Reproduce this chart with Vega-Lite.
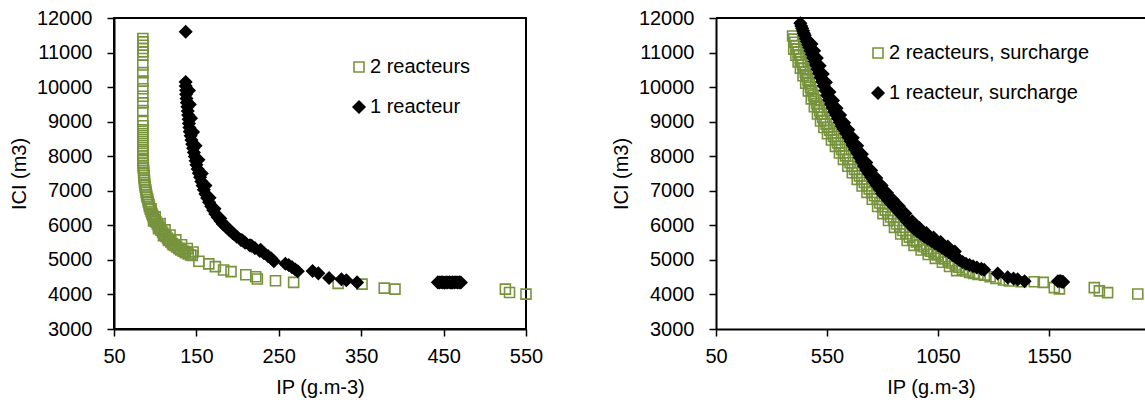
{
  "$schema": "https://vega.github.io/schema/vega-lite/v6.json",
  "padding": {"left": 8, "top": 7, "right": 0, "bottom": 0},
  "background": "white",
  "config": {
    "font": "Liberation Sans",
    "view": {"stroke": "black", "strokeWidth": 2},
    "style": {"guide-title": {"fontWeight": "normal"}, "guide-label": {"fontWeight": "normal"}},
    "axis": {
      "grid": false, "domainColor": "black", "domainWidth": 2, "tickColor": "black", "tickWidth": 1.5, "tickSize": 7,
      "labelFont": "Liberation Sans", "labelFontSize": 20, "labelColor": "black", "labelOverlap": false, "labelBound": false, "labelFlush": false,
      "titleFont": "Liberation Sans", "titleFontSize": 20, "titleFontWeight": "normal", "titleColor": "black"
    },
    "axisY": {"labelPadding": 15, "titlePadding": 7},
    "axisX": {"labelPadding": 10, "titlePadding": 11},
    "legend": {"labelFont": "Liberation Sans", "labelFontSize": 20, "labelColor": "black", "labelLimit": 0, "symbolStrokeWidth": 1.6, "rowPadding": 20, "labelOffset": 1, "padding": 0}
  },
  "datasets": {
    "gauche": [
      {"IP":85,"ICI":11408,"serie":"2 reacteurs"},{"IP":85,"ICI":11310,"serie":"2 reacteurs"},{"IP":85,"ICI":11213,"serie":"2 reacteurs"},{"IP":85,"ICI":11116,"serie":"2 reacteurs"},{"IP":85,"ICI":11019,"serie":"2 reacteurs"},{"IP":85,"ICI":10922,"serie":"2 reacteurs"},{"IP":85,"ICI":10640,"serie":"2 reacteurs"},{"IP":85,"ICI":10418,"serie":"2 reacteurs"},{"IP":85,"ICI":10174,"serie":"2 reacteurs"},{"IP":85,"ICI":9952,"serie":"2 reacteurs"},{"IP":85,"ICI":9737,"serie":"2 reacteurs"},{"IP":85,"ICI":9543,"serie":"2 reacteurs"},{"IP":85,"ICI":9320,"serie":"2 reacteurs"},{"IP":85,"ICI":9009,"serie":"2 reacteurs"},{"IP":85,"ICI":8883,"serie":"2 reacteurs"},{"IP":85,"ICI":8767,"serie":"2 reacteurs"},{"IP":85,"ICI":8650,"serie":"2 reacteurs"},{"IP":85,"ICI":8534,"serie":"2 reacteurs"},{"IP":85,"ICI":8417,"serie":"2 reacteurs"},{"IP":85,"ICI":8301,"serie":"2 reacteurs"},{"IP":85,"ICI":8184,"serie":"2 reacteurs"},
      {"IP":85,"ICI":8080,"serie":"2 reacteurs"},{"IP":85,"ICI":8010,"serie":"2 reacteurs"},{"IP":85,"ICI":7940,"serie":"2 reacteurs"},{"IP":85,"ICI":7870,"serie":"2 reacteurs"},{"IP":85.5,"ICI":7800,"serie":"2 reacteurs"},{"IP":85.5,"ICI":7730,"serie":"2 reacteurs"},{"IP":85.5,"ICI":7660,"serie":"2 reacteurs"},{"IP":86,"ICI":7590,"serie":"2 reacteurs"},{"IP":86,"ICI":7520,"serie":"2 reacteurs"},{"IP":86.5,"ICI":7450,"serie":"2 reacteurs"},{"IP":86.5,"ICI":7380,"serie":"2 reacteurs"},{"IP":87,"ICI":7310,"serie":"2 reacteurs"},{"IP":87,"ICI":7240,"serie":"2 reacteurs"},{"IP":87.5,"ICI":7170,"serie":"2 reacteurs"},{"IP":88,"ICI":7100,"serie":"2 reacteurs"},{"IP":88.5,"ICI":7030,"serie":"2 reacteurs"},{"IP":89,"ICI":6960,"serie":"2 reacteurs"},{"IP":89.5,"ICI":6890,"serie":"2 reacteurs"},{"IP":90,"ICI":6820,"serie":"2 reacteurs"},{"IP":91,"ICI":6750,"serie":"2 reacteurs"},{"IP":91.5,"ICI":6680,"serie":"2 reacteurs"},{"IP":92.5,"ICI":6610,"serie":"2 reacteurs"},{"IP":93,"ICI":6540,"serie":"2 reacteurs"},{"IP":94,"ICI":6470,"serie":"2 reacteurs"},{"IP":95,"ICI":6400,"serie":"2 reacteurs"},{"IP":96,"ICI":6340,"serie":"2 reacteurs"},{"IP":97,"ICI":6280,"serie":"2 reacteurs"},{"IP":98,"ICI":6220,"serie":"2 reacteurs"},{"IP":99.5,"ICI":6160,"serie":"2 reacteurs"},{"IP":101,"ICI":6100,"serie":"2 reacteurs"},{"IP":102.5,"ICI":6040,"serie":"2 reacteurs"},{"IP":104,"ICI":5980,"serie":"2 reacteurs"},{"IP":105.5,"ICI":5920,"serie":"2 reacteurs"},{"IP":107,"ICI":5860,"serie":"2 reacteurs"},{"IP":109,"ICI":5800,"serie":"2 reacteurs"},{"IP":111,"ICI":5740,"serie":"2 reacteurs"},{"IP":113,"ICI":5680,"serie":"2 reacteurs"},{"IP":115,"ICI":5625,"serie":"2 reacteurs"},{"IP":117,"ICI":5570,"serie":"2 reacteurs"},{"IP":119,"ICI":5520,"serie":"2 reacteurs"},{"IP":121,"ICI":5470,"serie":"2 reacteurs"},{"IP":123.5,"ICI":5420,"serie":"2 reacteurs"},{"IP":126,"ICI":5375,"serie":"2 reacteurs"},{"IP":128.5,"ICI":5330,"serie":"2 reacteurs"},{"IP":131,"ICI":5290,"serie":"2 reacteurs"},{"IP":134,"ICI":5250,"serie":"2 reacteurs"},{"IP":137,"ICI":5210,"serie":"2 reacteurs"},{"IP":140,"ICI":5170,"serie":"2 reacteurs"},{"IP":143,"ICI":5140,"serie":"2 reacteurs"},
      {"IP":95,"ICI":6480,"serie":"2 reacteurs"},{"IP":100,"ICI":6250,"serie":"2 reacteurs"},{"IP":106,"ICI":6050,"serie":"2 reacteurs"},{"IP":112,"ICI":5870,"serie":"2 reacteurs"},{"IP":118,"ICI":5720,"serie":"2 reacteurs"},{"IP":125,"ICI":5580,"serie":"2 reacteurs"},{"IP":132,"ICI":5440,"serie":"2 reacteurs"},{"IP":139,"ICI":5330,"serie":"2 reacteurs"},{"IP":146,"ICI":5230,"serie":"2 reacteurs"},
      {"IP":98,"ICI":6130,"serie":"2 reacteurs"},{"IP":104,"ICI":5900,"serie":"2 reacteurs"},{"IP":110,"ICI":5700,"serie":"2 reacteurs"},{"IP":116,"ICI":5560,"serie":"2 reacteurs"},{"IP":122,"ICI":5440,"serie":"2 reacteurs"},{"IP":129,"ICI":5330,"serie":"2 reacteurs"},{"IP":136,"ICI":5240,"serie":"2 reacteurs"},
      {"IP":145,"ICI":5125,"serie":"2 reacteurs"},{"IP":153,"ICI":4960,"serie":"2 reacteurs"},{"IP":165,"ICI":4884,"serie":"2 reacteurs"},{"IP":173,"ICI":4805,"serie":"2 reacteurs"},{"IP":183,"ICI":4708,"serie":"2 reacteurs"},{"IP":192,"ICI":4659,"serie":"2 reacteurs"},{"IP":210,"ICI":4572,"serie":"2 reacteurs"},{"IP":222,"ICI":4514,"serie":"2 reacteurs"},{"IP":224,"ICI":4446,"serie":"2 reacteurs"},{"IP":246,"ICI":4397,"serie":"2 reacteurs"},{"IP":268,"ICI":4349,"serie":"2 reacteurs"},{"IP":322,"ICI":4320,"serie":"2 reacteurs"},{"IP":351,"ICI":4300,"serie":"2 reacteurs"},{"IP":378,"ICI":4184,"serie":"2 reacteurs"},{"IP":391,"ICI":4155,"serie":"2 reacteurs"},{"IP":525,"ICI":4155,"serie":"2 reacteurs"},{"IP":530,"ICI":4058,"serie":"2 reacteurs"},{"IP":550,"ICI":4010,"serie":"2 reacteurs"},
      {"IP":137,"ICI":11600,"serie":"1 reacteur"},
      {"IP":137,"ICI":10150,"serie":"1 reacteur"},{"IP":137,"ICI":10030,"serie":"1 reacteur"},{"IP":137.5,"ICI":9910,"serie":"1 reacteur"},{"IP":137.5,"ICI":9790,"serie":"1 reacteur"},{"IP":138,"ICI":9670,"serie":"1 reacteur"},{"IP":138.5,"ICI":9550,"serie":"1 reacteur"},{"IP":139,"ICI":9430,"serie":"1 reacteur"},{"IP":139.5,"ICI":9310,"serie":"1 reacteur"},{"IP":140,"ICI":9190,"serie":"1 reacteur"},{"IP":140.5,"ICI":9070,"serie":"1 reacteur"},{"IP":141,"ICI":8950,"serie":"1 reacteur"},{"IP":141.5,"ICI":8830,"serie":"1 reacteur"},{"IP":142,"ICI":8710,"serie":"1 reacteur"},{"IP":143,"ICI":8590,"serie":"1 reacteur"},{"IP":144,"ICI":8470,"serie":"1 reacteur"},{"IP":145,"ICI":8350,"serie":"1 reacteur"},{"IP":146,"ICI":8230,"serie":"1 reacteur"},{"IP":147,"ICI":8110,"serie":"1 reacteur"},{"IP":148,"ICI":7990,"serie":"1 reacteur"},{"IP":149,"ICI":7870,"serie":"1 reacteur"},{"IP":150,"ICI":7750,"serie":"1 reacteur"},{"IP":151.5,"ICI":7630,"serie":"1 reacteur"},{"IP":153,"ICI":7510,"serie":"1 reacteur"},{"IP":154.5,"ICI":7390,"serie":"1 reacteur"},{"IP":156,"ICI":7270,"serie":"1 reacteur"},{"IP":157.5,"ICI":7150,"serie":"1 reacteur"},{"IP":159,"ICI":7030,"serie":"1 reacteur"},{"IP":161,"ICI":6910,"serie":"1 reacteur"},{"IP":163,"ICI":6790,"serie":"1 reacteur"},{"IP":165.5,"ICI":6670,"serie":"1 reacteur"},{"IP":168,"ICI":6550,"serie":"1 reacteur"},{"IP":170.5,"ICI":6440,"serie":"1 reacteur"},{"IP":173,"ICI":6330,"serie":"1 reacteur"},{"IP":176,"ICI":6230,"serie":"1 reacteur"},{"IP":179,"ICI":6130,"serie":"1 reacteur"},{"IP":182,"ICI":6040,"serie":"1 reacteur"},{"IP":186,"ICI":5950,"serie":"1 reacteur"},{"IP":190,"ICI":5860,"serie":"1 reacteur"},{"IP":194,"ICI":5770,"serie":"1 reacteur"},{"IP":199,"ICI":5670,"serie":"1 reacteur"},{"IP":204,"ICI":5580,"serie":"1 reacteur"},{"IP":209,"ICI":5500,"serie":"1 reacteur"},{"IP":215,"ICI":5420,"serie":"1 reacteur"},{"IP":221,"ICI":5340,"serie":"1 reacteur"},{"IP":227,"ICI":5260,"serie":"1 reacteur"},{"IP":232,"ICI":5190,"serie":"1 reacteur"},{"IP":237,"ICI":5110,"serie":"1 reacteur"},{"IP":241,"ICI":5040,"serie":"1 reacteur"},{"IP":244,"ICI":4960,"serie":"1 reacteur"},
      {"IP":141,"ICI":9900,"serie":"1 reacteur"},{"IP":142,"ICI":9500,"serie":"1 reacteur"},{"IP":143.5,"ICI":9100,"serie":"1 reacteur"},{"IP":146,"ICI":8700,"serie":"1 reacteur"},{"IP":149,"ICI":8300,"serie":"1 reacteur"},{"IP":152.5,"ICI":7900,"serie":"1 reacteur"},{"IP":156.5,"ICI":7500,"serie":"1 reacteur"},{"IP":161,"ICI":7150,"serie":"1 reacteur"},{"IP":166,"ICI":6800,"serie":"1 reacteur"},{"IP":172,"ICI":6480,"serie":"1 reacteur"},{"IP":179,"ICI":6200,"serie":"1 reacteur"},{"IP":187,"ICI":5950,"serie":"1 reacteur"},{"IP":196,"ICI":5740,"serie":"1 reacteur"},{"IP":206,"ICI":5560,"serie":"1 reacteur"},{"IP":217,"ICI":5410,"serie":"1 reacteur"},{"IP":228,"ICI":5290,"serie":"1 reacteur"},
      {"IP":258,"ICI":4890,"serie":"1 reacteur"},{"IP":262,"ICI":4850,"serie":"1 reacteur"},{"IP":266,"ICI":4790,"serie":"1 reacteur"},{"IP":270,"ICI":4720,"serie":"1 reacteur"},{"IP":273,"ICI":4670,"serie":"1 reacteur"},{"IP":291,"ICI":4680,"serie":"1 reacteur"},{"IP":298,"ICI":4610,"serie":"1 reacteur"},{"IP":311,"ICI":4476,"serie":"1 reacteur"},{"IP":326,"ICI":4440,"serie":"1 reacteur"},{"IP":332,"ICI":4410,"serie":"1 reacteur"},{"IP":345,"ICI":4349,"serie":"1 reacteur"},
      {"IP":443,"ICI":4350,"serie":"1 reacteur"},{"IP":445,"ICI":4345,"serie":"1 reacteur"},{"IP":447,"ICI":4352,"serie":"1 reacteur"},{"IP":449,"ICI":4348,"serie":"1 reacteur"},{"IP":451,"ICI":4340,"serie":"1 reacteur"},{"IP":453,"ICI":4350,"serie":"1 reacteur"},{"IP":455,"ICI":4345,"serie":"1 reacteur"},{"IP":457,"ICI":4355,"serie":"1 reacteur"},{"IP":459,"ICI":4342,"serie":"1 reacteur"},{"IP":461,"ICI":4350,"serie":"1 reacteur"},{"IP":463,"ICI":4346,"serie":"1 reacteur"},{"IP":465,"ICI":4352,"serie":"1 reacteur"},{"IP":467,"ICI":4344,"serie":"1 reacteur"},{"IP":469,"ICI":4350,"serie":"1 reacteur"},{"IP":471,"ICI":4347,"serie":"1 reacteur"}
    ],
    "droite": [
      {"IP":395,"ICI":11480,"serie":"2 reacteurs, surcharge"},{"IP":400,"ICI":11390,"serie":"2 reacteurs, surcharge"},{"IP":405,"ICI":11300,"serie":"2 reacteurs, surcharge"},{"IP":410,"ICI":11200,"serie":"2 reacteurs, surcharge"},{"IP":415,"ICI":11110,"serie":"2 reacteurs, surcharge"},{"IP":420,"ICI":11020,"serie":"2 reacteurs, surcharge"},{"IP":425,"ICI":10930,"serie":"2 reacteurs, surcharge"},{"IP":430,"ICI":10830,"serie":"2 reacteurs, surcharge"},{"IP":435,"ICI":10740,"serie":"2 reacteurs, surcharge"},{"IP":440,"ICI":10650,"serie":"2 reacteurs, surcharge"},{"IP":446,"ICI":10540,"serie":"2 reacteurs, surcharge"},{"IP":452,"ICI":10430,"serie":"2 reacteurs, surcharge"},{"IP":458,"ICI":10320,"serie":"2 reacteurs, surcharge"},{"IP":464,"ICI":10210,"serie":"2 reacteurs, surcharge"},{"IP":470,"ICI":10100,"serie":"2 reacteurs, surcharge"},{"IP":476,"ICI":9990,"serie":"2 reacteurs, surcharge"},{"IP":482,"ICI":9880,"serie":"2 reacteurs, surcharge"},{"IP":489,"ICI":9760,"serie":"2 reacteurs, surcharge"},{"IP":496,"ICI":9640,"serie":"2 reacteurs, surcharge"},
      {"IP":503,"ICI":9530,"serie":"2 reacteurs, surcharge"},{"IP":510,"ICI":9420,"serie":"2 reacteurs, surcharge"},{"IP":517,"ICI":9320,"serie":"2 reacteurs, surcharge"},{"IP":524,"ICI":9220,"serie":"2 reacteurs, surcharge"},{"IP":531,"ICI":9120,"serie":"2 reacteurs, surcharge"},{"IP":538,"ICI":9030,"serie":"2 reacteurs, surcharge"},{"IP":546,"ICI":8930,"serie":"2 reacteurs, surcharge"},{"IP":554,"ICI":8840,"serie":"2 reacteurs, surcharge"},{"IP":562,"ICI":8750,"serie":"2 reacteurs, surcharge"},{"IP":571,"ICI":8660,"serie":"2 reacteurs, surcharge"},
      {"IP":580,"ICI":8570,"serie":"2 reacteurs, surcharge"},{"IP":589,"ICI":8480,"serie":"2 reacteurs, surcharge"},{"IP":598,"ICI":8385,"serie":"2 reacteurs, surcharge"},{"IP":607,"ICI":8290,"serie":"2 reacteurs, surcharge"},{"IP":616,"ICI":8195,"serie":"2 reacteurs, surcharge"},{"IP":625,"ICI":8100,"serie":"2 reacteurs, surcharge"},{"IP":634,"ICI":8010,"serie":"2 reacteurs, surcharge"},{"IP":644,"ICI":7910,"serie":"2 reacteurs, surcharge"},{"IP":654,"ICI":7810,"serie":"2 reacteurs, surcharge"},{"IP":664,"ICI":7710,"serie":"2 reacteurs, surcharge"},
      {"IP":674,"ICI":7620,"serie":"2 reacteurs, surcharge"},{"IP":685,"ICI":7525,"serie":"2 reacteurs, surcharge"},{"IP":696,"ICI":7430,"serie":"2 reacteurs, surcharge"},{"IP":707,"ICI":7335,"serie":"2 reacteurs, surcharge"},{"IP":718,"ICI":7240,"serie":"2 reacteurs, surcharge"},{"IP":729,"ICI":7150,"serie":"2 reacteurs, surcharge"},{"IP":740,"ICI":7055,"serie":"2 reacteurs, surcharge"},{"IP":752,"ICI":6955,"serie":"2 reacteurs, surcharge"},{"IP":764,"ICI":6855,"serie":"2 reacteurs, surcharge"},{"IP":776,"ICI":6750,"serie":"2 reacteurs, surcharge"},{"IP":788,"ICI":6645,"serie":"2 reacteurs, surcharge"},{"IP":800,"ICI":6545,"serie":"2 reacteurs, surcharge"},{"IP":812,"ICI":6440,"serie":"2 reacteurs, surcharge"},{"IP":824,"ICI":6340,"serie":"2 reacteurs, surcharge"},
      {"IP":837,"ICI":6240,"serie":"2 reacteurs, surcharge"},{"IP":850,"ICI":6140,"serie":"2 reacteurs, surcharge"},{"IP":864,"ICI":6040,"serie":"2 reacteurs, surcharge"},{"IP":878,"ICI":5945,"serie":"2 reacteurs, surcharge"},{"IP":892,"ICI":5850,"serie":"2 reacteurs, surcharge"},{"IP":906,"ICI":5755,"serie":"2 reacteurs, surcharge"},{"IP":921,"ICI":5660,"serie":"2 reacteurs, surcharge"},{"IP":936,"ICI":5570,"serie":"2 reacteurs, surcharge"},
      {"IP":952,"ICI":5520,"serie":"2 reacteurs, surcharge"},{"IP":968,"ICI":5450,"serie":"2 reacteurs, surcharge"},{"IP":984,"ICI":5385,"serie":"2 reacteurs, surcharge"},{"IP":1000,"ICI":5320,"serie":"2 reacteurs, surcharge"},{"IP":1016,"ICI":5255,"serie":"2 reacteurs, surcharge"},{"IP":1032,"ICI":5200,"serie":"2 reacteurs, surcharge"},{"IP":1048,"ICI":5145,"serie":"2 reacteurs, surcharge"},{"IP":1064,"ICI":5090,"serie":"2 reacteurs, surcharge"},{"IP":1080,"ICI":5030,"serie":"2 reacteurs, surcharge"},{"IP":1096,"ICI":4970,"serie":"2 reacteurs, surcharge"},{"IP":1112,"ICI":4910,"serie":"2 reacteurs, surcharge"},{"IP":1128,"ICI":4850,"serie":"2 reacteurs, surcharge"},{"IP":1144,"ICI":4790,"serie":"2 reacteurs, surcharge"},{"IP":1160,"ICI":4730,"serie":"2 reacteurs, surcharge"},{"IP":1176,"ICI":4680,"serie":"2 reacteurs, surcharge"},{"IP":1192,"ICI":4640,"serie":"2 reacteurs, surcharge"},
      {"IP":400,"ICI":11100,"serie":"2 reacteurs, surcharge"},{"IP":410,"ICI":10920,"serie":"2 reacteurs, surcharge"},{"IP":420,"ICI":10730,"serie":"2 reacteurs, surcharge"},{"IP":430,"ICI":10550,"serie":"2 reacteurs, surcharge"},{"IP":442,"ICI":10330,"serie":"2 reacteurs, surcharge"},{"IP":454,"ICI":10110,"serie":"2 reacteurs, surcharge"},{"IP":466,"ICI":9890,"serie":"2 reacteurs, surcharge"},{"IP":479,"ICI":9660,"serie":"2 reacteurs, surcharge"},{"IP":493,"ICI":9430,"serie":"2 reacteurs, surcharge"},{"IP":507,"ICI":9220,"serie":"2 reacteurs, surcharge"},{"IP":521,"ICI":9020,"serie":"2 reacteurs, surcharge"},{"IP":536,"ICI":8830,"serie":"2 reacteurs, surcharge"},{"IP":552,"ICI":8650,"serie":"2 reacteurs, surcharge"},{"IP":570,"ICI":8470,"serie":"2 reacteurs, surcharge"},{"IP":588,"ICI":8285,"serie":"2 reacteurs, surcharge"},{"IP":606,"ICI":8095,"serie":"2 reacteurs, surcharge"},{"IP":624,"ICI":7910,"serie":"2 reacteurs, surcharge"},{"IP":644,"ICI":7710,"serie":"2 reacteurs, surcharge"},{"IP":664,"ICI":7520,"serie":"2 reacteurs, surcharge"},{"IP":686,"ICI":7330,"serie":"2 reacteurs, surcharge"},{"IP":708,"ICI":7140,"serie":"2 reacteurs, surcharge"},{"IP":730,"ICI":6955,"serie":"2 reacteurs, surcharge"},{"IP":754,"ICI":6755,"serie":"2 reacteurs, surcharge"},{"IP":778,"ICI":6545,"serie":"2 reacteurs, surcharge"},{"IP":802,"ICI":6340,"serie":"2 reacteurs, surcharge"},{"IP":827,"ICI":6140,"serie":"2 reacteurs, surcharge"},{"IP":854,"ICI":5940,"serie":"2 reacteurs, surcharge"},{"IP":882,"ICI":5750,"serie":"2 reacteurs, surcharge"},{"IP":911,"ICI":5560,"serie":"2 reacteurs, surcharge"},{"IP":942,"ICI":5420,"serie":"2 reacteurs, surcharge"},{"IP":974,"ICI":5285,"serie":"2 reacteurs, surcharge"},{"IP":1006,"ICI":5155,"serie":"2 reacteurs, surcharge"},{"IP":1038,"ICI":5045,"serie":"2 reacteurs, surcharge"},{"IP":1070,"ICI":4930,"serie":"2 reacteurs, surcharge"},{"IP":1102,"ICI":4810,"serie":"2 reacteurs, surcharge"},{"IP":1134,"ICI":4690,"serie":"2 reacteurs, surcharge"},
      {"IP":1210,"ICI":4610,"serie":"2 reacteurs, surcharge"},{"IP":1230,"ICI":4580,"serie":"2 reacteurs, surcharge"},{"IP":1259,"ICI":4559,"serie":"2 reacteurs, surcharge"},{"IP":1285,"ICI":4510,"serie":"2 reacteurs, surcharge"},{"IP":1311,"ICI":4464,"serie":"2 reacteurs, surcharge"},{"IP":1345,"ICI":4420,"serie":"2 reacteurs, surcharge"},{"IP":1371,"ICI":4388,"serie":"2 reacteurs, surcharge"},{"IP":1424,"ICI":4369,"serie":"2 reacteurs, surcharge"},{"IP":1484,"ICI":4369,"serie":"2 reacteurs, surcharge"},{"IP":1524,"ICI":4350,"serie":"2 reacteurs, surcharge"},{"IP":1574,"ICI":4198,"serie":"2 reacteurs, surcharge"},{"IP":1597,"ICI":4160,"serie":"2 reacteurs, surcharge"},{"IP":1754,"ICI":4198,"serie":"2 reacteurs, surcharge"},{"IP":1777,"ICI":4102,"serie":"2 reacteurs, surcharge"},{"IP":1814,"ICI":4054,"serie":"2 reacteurs, surcharge"},{"IP":1950,"ICI":4015,"serie":"2 reacteurs, surcharge"},
      {"IP":430,"ICI":11850,"serie":"1 reacteur, surcharge"},{"IP":434,"ICI":11770,"serie":"1 reacteur, surcharge"},{"IP":438,"ICI":11700,"serie":"1 reacteur, surcharge"},{"IP":442,"ICI":11630,"serie":"1 reacteur, surcharge"},{"IP":446,"ICI":11560,"serie":"1 reacteur, surcharge"},{"IP":450,"ICI":11490,"serie":"1 reacteur, surcharge"},{"IP":455,"ICI":11400,"serie":"1 reacteur, surcharge"},{"IP":460,"ICI":11320,"serie":"1 reacteur, surcharge"},{"IP":465,"ICI":11230,"serie":"1 reacteur, surcharge"},{"IP":470,"ICI":11150,"serie":"1 reacteur, surcharge"},{"IP":476,"ICI":11050,"serie":"1 reacteur, surcharge"},{"IP":482,"ICI":10950,"serie":"1 reacteur, surcharge"},{"IP":488,"ICI":10850,"serie":"1 reacteur, surcharge"},{"IP":494,"ICI":10740,"serie":"1 reacteur, surcharge"},{"IP":500,"ICI":10640,"serie":"1 reacteur, surcharge"},{"IP":507,"ICI":10520,"serie":"1 reacteur, surcharge"},{"IP":514,"ICI":10400,"serie":"1 reacteur, surcharge"},{"IP":521,"ICI":10280,"serie":"1 reacteur, surcharge"},{"IP":528,"ICI":10160,"serie":"1 reacteur, surcharge"},{"IP":535,"ICI":10040,"serie":"1 reacteur, surcharge"},{"IP":543,"ICI":9900,"serie":"1 reacteur, surcharge"},{"IP":551,"ICI":9760,"serie":"1 reacteur, surcharge"},{"IP":559,"ICI":9625,"serie":"1 reacteur, surcharge"},{"IP":567,"ICI":9510,"serie":"1 reacteur, surcharge"},{"IP":575,"ICI":9400,"serie":"1 reacteur, surcharge"},{"IP":583,"ICI":9290,"serie":"1 reacteur, surcharge"},{"IP":591,"ICI":9190,"serie":"1 reacteur, surcharge"},{"IP":599,"ICI":9090,"serie":"1 reacteur, surcharge"},{"IP":608,"ICI":8980,"serie":"1 reacteur, surcharge"},{"IP":617,"ICI":8870,"serie":"1 reacteur, surcharge"},{"IP":626,"ICI":8770,"serie":"1 reacteur, surcharge"},{"IP":636,"ICI":8665,"serie":"1 reacteur, surcharge"},{"IP":646,"ICI":8550,"serie":"1 reacteur, surcharge"},{"IP":656,"ICI":8435,"serie":"1 reacteur, surcharge"},{"IP":666,"ICI":8320,"serie":"1 reacteur, surcharge"},{"IP":676,"ICI":8200,"serie":"1 reacteur, surcharge"},{"IP":686,"ICI":8090,"serie":"1 reacteur, surcharge"},{"IP":697,"ICI":7960,"serie":"1 reacteur, surcharge"},{"IP":707,"ICI":7840,"serie":"1 reacteur, surcharge"},{"IP":717,"ICI":7715,"serie":"1 reacteur, surcharge"},{"IP":728,"ICI":7600,"serie":"1 reacteur, surcharge"},{"IP":739,"ICI":7490,"serie":"1 reacteur, surcharge"},{"IP":750,"ICI":7385,"serie":"1 reacteur, surcharge"},{"IP":762,"ICI":7270,"serie":"1 reacteur, surcharge"},{"IP":774,"ICI":7160,"serie":"1 reacteur, surcharge"},{"IP":786,"ICI":7050,"serie":"1 reacteur, surcharge"},{"IP":798,"ICI":6930,"serie":"1 reacteur, surcharge"},{"IP":810,"ICI":6840,"serie":"1 reacteur, surcharge"},{"IP":823,"ICI":6740,"serie":"1 reacteur, surcharge"},{"IP":836,"ICI":6645,"serie":"1 reacteur, surcharge"},{"IP":850,"ICI":6550,"serie":"1 reacteur, surcharge"},{"IP":864,"ICI":6455,"serie":"1 reacteur, surcharge"},{"IP":878,"ICI":6360,"serie":"1 reacteur, surcharge"},{"IP":893,"ICI":6240,"serie":"1 reacteur, surcharge"},{"IP":908,"ICI":6130,"serie":"1 reacteur, surcharge"},{"IP":924,"ICI":6020,"serie":"1 reacteur, surcharge"},{"IP":940,"ICI":5910,"serie":"1 reacteur, surcharge"},{"IP":956,"ICI":5830,"serie":"1 reacteur, surcharge"},{"IP":972,"ICI":5755,"serie":"1 reacteur, surcharge"},{"IP":988,"ICI":5680,"serie":"1 reacteur, surcharge"},{"IP":1004,"ICI":5610,"serie":"1 reacteur, surcharge"},{"IP":1020,"ICI":5545,"serie":"1 reacteur, surcharge"},{"IP":1036,"ICI":5480,"serie":"1 reacteur, surcharge"},{"IP":1052,"ICI":5415,"serie":"1 reacteur, surcharge"},{"IP":1068,"ICI":5350,"serie":"1 reacteur, surcharge"},{"IP":1084,"ICI":5285,"serie":"1 reacteur, surcharge"},{"IP":1100,"ICI":5215,"serie":"1 reacteur, surcharge"},{"IP":1116,"ICI":5140,"serie":"1 reacteur, surcharge"},{"IP":1131,"ICI":5070,"serie":"1 reacteur, surcharge"},{"IP":1146,"ICI":5000,"serie":"1 reacteur, surcharge"},{"IP":1161,"ICI":4940,"serie":"1 reacteur, surcharge"},{"IP":1176,"ICI":4890,"serie":"1 reacteur, surcharge"},{"IP":1192,"ICI":4850,"serie":"1 reacteur, surcharge"},{"IP":1208,"ICI":4815,"serie":"1 reacteur, surcharge"},{"IP":1225,"ICI":4780,"serie":"1 reacteur, surcharge"},
      {"IP":480,"ICI":11250,"serie":"1 reacteur, surcharge"},{"IP":492,"ICI":11050,"serie":"1 reacteur, surcharge"},{"IP":504,"ICI":10840,"serie":"1 reacteur, surcharge"},{"IP":517,"ICI":10620,"serie":"1 reacteur, surcharge"},{"IP":531,"ICI":10380,"serie":"1 reacteur, surcharge"},{"IP":545,"ICI":10140,"serie":"1 reacteur, surcharge"},{"IP":561,"ICI":9860,"serie":"1 reacteur, surcharge"},{"IP":577,"ICI":9610,"serie":"1 reacteur, surcharge"},{"IP":593,"ICI":9390,"serie":"1 reacteur, surcharge"},{"IP":609,"ICI":9190,"serie":"1 reacteur, surcharge"},{"IP":627,"ICI":8970,"serie":"1 reacteur, surcharge"},{"IP":646,"ICI":8765,"serie":"1 reacteur, surcharge"},{"IP":666,"ICI":8535,"serie":"1 reacteur, surcharge"},{"IP":686,"ICI":8300,"serie":"1 reacteur, surcharge"},{"IP":707,"ICI":8060,"serie":"1 reacteur, surcharge"},{"IP":727,"ICI":7815,"serie":"1 reacteur, surcharge"},{"IP":749,"ICI":7590,"serie":"1 reacteur, surcharge"},{"IP":772,"ICI":7370,"serie":"1 reacteur, surcharge"},{"IP":796,"ICI":7150,"serie":"1 reacteur, surcharge"},{"IP":820,"ICI":6940,"serie":"1 reacteur, surcharge"},{"IP":846,"ICI":6745,"serie":"1 reacteur, surcharge"},{"IP":874,"ICI":6555,"serie":"1 reacteur, surcharge"},{"IP":903,"ICI":6340,"serie":"1 reacteur, surcharge"},{"IP":934,"ICI":6120,"serie":"1 reacteur, surcharge"},{"IP":966,"ICI":5930,"serie":"1 reacteur, surcharge"},{"IP":998,"ICI":5780,"serie":"1 reacteur, surcharge"},{"IP":1030,"ICI":5645,"serie":"1 reacteur, surcharge"},{"IP":1062,"ICI":5515,"serie":"1 reacteur, surcharge"},{"IP":1094,"ICI":5385,"serie":"1 reacteur, surcharge"},{"IP":1126,"ICI":5240,"serie":"1 reacteur, surcharge"},
      {"IP":1245,"ICI":4740,"serie":"1 reacteur, surcharge"},{"IP":1258,"ICI":4715,"serie":"1 reacteur, surcharge"},{"IP":1319,"ICI":4607,"serie":"1 reacteur, surcharge"},{"IP":1364,"ICI":4495,"serie":"1 reacteur, surcharge"},{"IP":1390,"ICI":4460,"serie":"1 reacteur, surcharge"},{"IP":1409,"ICI":4436,"serie":"1 reacteur, surcharge"},{"IP":1440,"ICI":4380,"serie":"1 reacteur, surcharge"},
      {"IP":1590,"ICI":4380,"serie":"1 reacteur, surcharge"},{"IP":1600,"ICI":4390,"serie":"1 reacteur, surcharge"},{"IP":1608,"ICI":4370,"serie":"1 reacteur, surcharge"},{"IP":1614,"ICI":4360,"serie":"1 reacteur, surcharge"}
    ]
  },
  "hconcat": [
    {
      "width": 412,
      "height": 311,
      "data": {"name": "gauche"},
      "mark": {"type": "point", "opacity": 1, "strokeWidth": 1.6},
      "encoding": {
        "x": {"field": "IP", "type": "quantitative", "title": "IP (g.m-3)", "scale": {"domain": [50, 550], "nice": false, "zero": false}, "axis": {"values": [50, 150, 250, 350, 450, 550], "format": "d", "titleFontWeight": "normal"}},
        "y": {"field": "ICI", "type": "quantitative", "title": "ICI (m3)", "scale": {"domain": [3000, 12000], "nice": false, "zero": false}, "axis": {"values": [3000, 4000, 5000, 6000, 7000, 8000, 9000, 10000, 11000, 12000], "format": "d", "titleFontWeight": "normal"}},
        "size": {"field": "serie", "type": "nominal", "scale": {"domain": ["2 reacteurs", "1 reacteur"], "range": [100, 140]}, "legend": {"orient": "none", "legendX": 235, "legendY": 39, "title": null}},
        "shape": {"field": "serie", "type": "nominal", "scale": {"domain": ["2 reacteurs", "1 reacteur"], "range": ["square", "diamond"]}, "legend": {"orient": "none", "legendX": 235, "legendY": 39, "title": null}},
        "stroke": {"field": "serie", "type": "nominal", "scale": {"domain": ["2 reacteurs", "1 reacteur"], "range": ["#77933C", "black"]}, "legend": {"orient": "none", "legendX": 235, "legendY": 39, "title": null}},
        "fill": {"field": "serie", "type": "nominal", "scale": {"domain": ["2 reacteurs", "1 reacteur"], "range": ["transparent", "black"]}, "legend": {"orient": "none", "legendX": 235, "legendY": 39, "title": null}}
      }
    },
    {
      "width": 430,
      "height": 311,
      "view": {"stroke": null},
      "data": {"name": "droite"},
      "layer": [
        {
          "mark": {"type": "point", "opacity": 1, "strokeWidth": 1.6},
          "encoding": {
            "x": {"field": "IP", "type": "quantitative", "title": "IP (g.m-3)", "scale": {"domain": [50, 1987], "nice": false, "zero": false}, "axis": {"values": [50, 550, 1050, 1550], "format": "d", "titleFontWeight": "normal"}},
            "y": {"field": "ICI", "type": "quantitative", "title": "ICI (m3)", "scale": {"domain": [3000, 12000], "nice": false, "zero": false}, "axis": {"values": [3000, 4000, 5000, 6000, 7000, 8000, 9000, 10000, 11000, 12000], "format": "d", "titleFontWeight": "normal"}},
            "size": {"field": "serie", "type": "nominal", "scale": {"domain": ["2 reacteurs, surcharge", "1 reacteur, surcharge"], "range": [100, 140]}, "legend": {"orient": "none", "legendX": 152, "legendY": 25, "title": null}},
            "shape": {"field": "serie", "type": "nominal", "scale": {"domain": ["2 reacteurs, surcharge", "1 reacteur, surcharge"], "range": ["square", "diamond"]}, "legend": {"orient": "none", "legendX": 152, "legendY": 25, "title": null}},
            "stroke": {"field": "serie", "type": "nominal", "scale": {"domain": ["2 reacteurs, surcharge", "1 reacteur, surcharge"], "range": ["#77933C", "black"]}, "legend": {"orient": "none", "legendX": 152, "legendY": 25, "title": null}},
            "fill": {"field": "serie", "type": "nominal", "scale": {"domain": ["2 reacteurs, surcharge", "1 reacteur, surcharge"], "range": ["transparent", "black"]}, "legend": {"orient": "none", "legendX": 152, "legendY": 25, "title": null}}
          }
        },
        {
          "mark": {"type": "rule", "color": "black", "strokeWidth": 2},
          "encoding": {"y": {"datum": 12000, "type": "quantitative", "title": "ICI (m3)", "axis": {"values": [3000, 4000, 5000, 6000, 7000, 8000, 9000, 10000, 11000, 12000], "format": "d", "titleFontWeight": "normal"}}}
        }
      ]
    }
  ],
  "spacing": 67,
  "resolve": {"scale": {"x": "independent", "y": "independent", "size": "independent", "shape": "independent", "stroke": "independent", "fill": "independent"}, "legend": {"size": "independent", "shape": "independent", "stroke": "independent", "fill": "independent"}}
}
